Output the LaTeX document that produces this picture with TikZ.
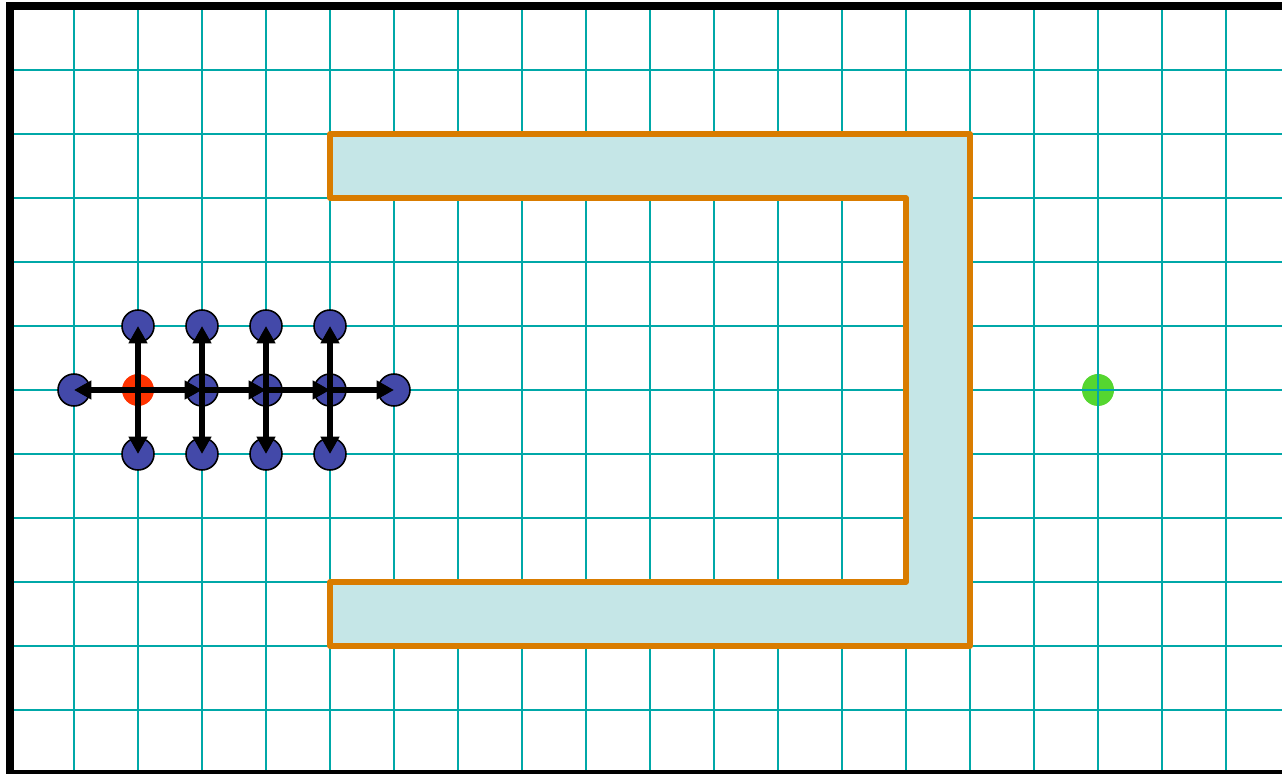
\documentclass[tikz,border=0pt]{standalone}
\usetikzlibrary{arrows.meta}
\definecolor{gridteal}{RGB}{0,168,168}
\definecolor{wallorange}{RGB}{217,124,0}
\definecolor{wallfill}{RGB}{197,230,231}
\definecolor{cellblue}{RGB}{67,73,169}
\definecolor{startred}{RGB}{255,51,0}
\definecolor{goalgreen}{RGB}{85,214,48}
\tikzset{
    cell/.style={
        circle,
        draw=black,
        line width=0.7pt,
        fill=cellblue,
        minimum size=0.5cm,
        inner sep=0pt
    },
    start/.style={
        circle,
        fill=startred,
        minimum size=0.5cm,
        inner sep=0pt
    },
    goal/.style={
        circle,
        fill=goalgreen,
        minimum size=0.5cm,
        inner sep=0pt
    },
    gridline/.style={
        gridteal,
        line width=0.9pt
    },
    wall/.style={
        draw=wallorange,
        fill=wallfill,
        line width=2.3pt,
        line join=round
    },
    move/.style={
        -{Triangle[length=0.27cm,width=0.28cm]},
        line width=2.9pt,
        black
    }
}

\begin{document}
\begin{tikzpicture}[y=-1cm]

    \useasboundingbox (-0.15625,-0.09375) rectangle (19.875,12);

    \node[goal] (goal) at (17,6) {};

    \foreach \i in {1,...,19}
        \draw[gridline] (\i,0) -- (\i,12);
    \foreach \j in {1,...,11}
        \draw[gridline] (0,\j) -- (20,\j);

    \draw[line width=3.6pt] (0,0) rectangle (20,12);

    \draw[wall] (5,2) -- (15,2) -- (15,10) -- (5,10) -- (5,9) -- (14,9) -- (14,3) -- (5,3) -- cycle;

    \node[cell] (c16) at (1,6) {};
    \node[cell] (c25) at (2,5) {};
    \node[cell] (c27) at (2,7) {};
    \node[cell] (c35) at (3,5) {};
    \node[cell] (c36) at (3,6) {};
    \node[cell] (c37) at (3,7) {};
    \node[cell] (c45) at (4,5) {};
    \node[cell] (c46) at (4,6) {};
    \node[cell] (c47) at (4,7) {};
    \node[cell] (c55) at (5,5) {};
    \node[cell] (c56) at (5,6) {};
    \node[cell] (c57) at (5,7) {};
    \node[cell] (c66) at (6,6) {};
    \node[start] (start) at (2,6) {};

    \draw[move] (start.center) -- (c16.center);
    \draw[move] (start.center) -- (c25.center);
    \draw[move] (start.center) -- (c27.center);
    \draw[move] (start.center) -- (c36.center);
    \draw[move] (c36.center) -- (c35.center);
    \draw[move] (c36.center) -- (c37.center);
    \draw[move] (c36.center) -- (c46.center);
    \draw[move] (c46.center) -- (c45.center);
    \draw[move] (c46.center) -- (c47.center);
    \draw[move] (c46.center) -- (c56.center);
    \draw[move] (c56.center) -- (c55.center);
    \draw[move] (c56.center) -- (c57.center);
    \draw[move] (c56.center) -- (c66.center);

\end{tikzpicture}
\end{document}
